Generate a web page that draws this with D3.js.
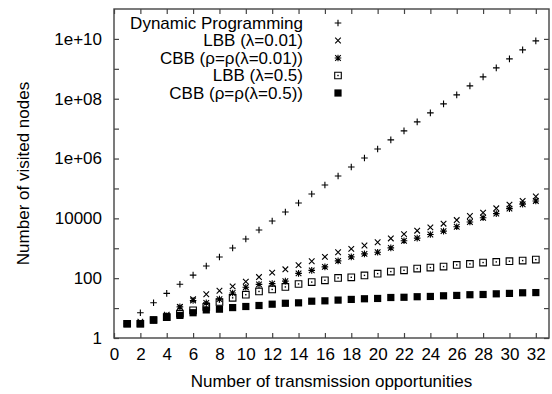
<!DOCTYPE html>
<html>
<head>
<meta charset="utf-8">
<script src="https://cdn.jsdelivr.net/npm/d3@7"></script>
<style>
  html, body { margin: 0; padding: 0; background: #ffffff; }
  #chart svg { display: block; font-family: "Liberation Sans", Arial, Helvetica, sans-serif; }
</style>
</head>
<body>
<div id="chart"></div>
<script>
// Number of transmission opportunities (x)
const opportunities = [1, 2, 3, 4, 5, 6, 7, 8, 9, 10, 11, 12, 13, 14, 15, 16,
  17, 18, 19, 20, 21, 22, 23, 24, 25, 26, 27, 28, 29, 30, 31, 32];

// Number of visited nodes (log scale)
const dynamicProgramming = [3, 7, 15, 31, 63, 127, 255, 511, 1023, 2047, 4095, 8191,
  16383, 32767, 65535, 131071, 262143, 524287, 1048575, 2097151, 4194303, 8388607,
  16777215, 33554431, 67108863, 134217727, 268435455, 536870911, 1073741823,
  2147483647, 4294967295, 8589934591];
const lbbSmall = [3, 3.5, 4, 6, 11, 20, 29, 38, 53, 77, 109, 153, 198, 273, 369, 517,
  737, 955, 1240, 1590, 2130, 2960, 3870, 5000, 6630, 8770, 12000, 15500, 21700,
  28900, 38200, 53700];
const cbbSmall = [3, 3, 4, 5.5, 11, 18, 15, 20, 32, 50, 62, 66, 80, 145, 183, 239,
  380, 517, 650, 740, 1030, 1780, 2180, 2890, 3740, 5250, 7540, 10500, 14400,
  21200, 29600, 38200];
const lbbLarge = [3, 3, 4, 5, 6.5, 8.4, 11, 16, 22, 28, 36, 42, 51, 64, 74, 85, 102,
  107, 124, 142, 166, 183, 209, 226, 244, 277, 300, 333, 350, 369, 388, 418];
const cbbLarge = [3, 3, 4, 5, 5.7, 7, 8.7, 9.2, 10.4, 11.3, 12.2, 13.5, 14.5, 15, 17,
  17.5, 18.5, 19.5, 20.5, 21, 22.6, 23, 24, 24.5, 25.8, 26.5, 28, 28.5, 30, 31,
  32.5, 33];

const seriesNames = [
  'Dynamic Programming',
  'LBB (\u03bb=0.01)',
  'CBB (\u03c1=\u03c1(\u03bb=0.01))',
  'LBB (\u03bb=0.5)',
  'CBB (\u03c1=\u03c1(\u03bb=0.5))'
];
const seriesValues = [dynamicProgramming, lbbSmall, cbbSmall, lbbLarge, cbbLarge];
const seriesMarkers = ['plus', 'cross', 'star', 'box', 'filledBox'];

// Tick labels
const xTicks = [0, 2, 4, 6, 8, 10, 12, 14, 16, 18, 20, 22, 24, 26, 28, 30, 32];
const yTicks = [1, 100, 10000, 1e6, 1e8, 1e10];
const yTickLabels = ['1', '100', '10000', '1e+06', '1e+08', '1e+10'];
const yMinorTicks = [10, 1000, 1e5, 1e7, 1e9];

const svgWidth = 552;
const svgHeight = 394;
const margin = { top: 9, right: 3, bottom: 56, left: 114 };
const width = svgWidth - margin.left - margin.right;
const height = svgHeight - margin.top - margin.bottom;
const fontSize = 17;
const tickLen = 5;

const svg = d3.select('#chart')
  .append('svg')
  .attr('width', svgWidth)
  .attr('height', svgHeight);

const g = svg.append('g')
  .attr('transform', 'translate(' + margin.left + ',' + margin.top + ')');

const xScale = d3.scaleLinear().domain([0, 33]).range([0, width]);
const yScale = d3.scaleLog().domain([1, 1e11]).range([height, 0]);

// marker shapes, gnuplot style
function markerPath(type) {
  const s = 3.3;
  switch (type) {
    case 'plus': return 'M' + (-s) + ',0H' + s + 'M0,' + (-s) + 'V' + s;
    case 'cross': return 'M' + (-s * 0.85) + ',' + (-s * 0.85) + 'L' + (s * 0.85) + ',' + (s * 0.85) +
      'M' + (-s * 0.85) + ',' + (s * 0.85) + 'L' + (s * 0.85) + ',' + (-s * 0.85);
    case 'star': return markerPath('plus') + markerPath('cross');
    case 'box': return 'M' + (-s) + ',' + (-s) + 'H' + s + 'V' + s + 'H' + (-s) + 'Z';
    default: return '';
  }
}

function drawMarker(sel, type) {
  if (type === 'filledBox') {
    sel.append('rect')
      .attr('x', -3.6).attr('y', -3.6)
      .attr('width', 7.2).attr('height', 7.2)
      .attr('fill', '#000');
    return;
  }
  sel.append('path')
    .attr('d', markerPath(type))
    .attr('fill', 'none')
    .attr('stroke', '#000')
    .attr('stroke-width', 1.1);
  if (type === 'box') {
    sel.append('rect')
      .attr('x', -0.7).attr('y', -0.7)
      .attr('width', 1.4).attr('height', 1.4)
      .attr('fill', '#000');
  }
}

// X axis (bottom labels + top mirror ticks)
const xAxis = g.append('g')
  .attr('transform', 'translate(0,' + height + ')')
  .call(d3.axisBottom(xScale).tickValues(xTicks).tickSize(-tickLen).tickPadding(10));
g.append('g')
  .call(d3.axisTop(xScale).tickValues(xTicks).tickSize(-tickLen).tickFormat(''));

// Y axis (left labels + right mirror ticks)
const yAxis = g.append('g')
  .call(d3.axisLeft(yScale).tickValues(yTicks).tickSize(-tickLen).tickPadding(12)
    .tickFormat((d, i) => yTickLabels[i]));
g.append('g')
  .attr('transform', 'translate(' + width + ',0)')
  .call(d3.axisRight(yScale).tickValues(yTicks).tickSize(-tickLen).tickFormat(''));

// minor ticks at odd decades
g.append('g')
  .call(d3.axisLeft(yScale).tickValues(yMinorTicks).tickSize(-tickLen).tickFormat(''));
g.append('g')
  .attr('transform', 'translate(' + width + ',0)')
  .call(d3.axisRight(yScale).tickValues(yMinorTicks).tickSize(-tickLen).tickFormat(''));

g.selectAll('.domain').remove();
g.selectAll('.tick line').attr('stroke', '#444').attr('stroke-width', 1.2);
g.selectAll('.tick text')
  .attr('fill', '#000')
  .style('font-size', fontSize + 'px')
  .style('font-family', '"Liberation Sans", Arial, sans-serif');

// plot border
g.append('rect')
  .attr('x', 0).attr('y', 0)
  .attr('width', width).attr('height', height)
  .attr('fill', 'none')
  .attr('stroke', '#444')
  .attr('stroke-width', 1.4);

// data points
seriesValues.forEach((values, k) => {
  const pts = g.append('g').attr('class', 'series-' + k);
  opportunities.forEach((n, i) => {
    const p = pts.append('g')
      .attr('transform', 'translate(' + xScale(n) + ',' + yScale(values[i]) + ')');
    drawMarker(p, seriesMarkers[k]);
  });
});

// legend (text right aligned, marker to the right)
const legend = g.append('g').attr('transform', 'translate(0,0)');
seriesNames.forEach((name, k) => {
  const yPos = 14 + k * 17.5;
  legend.append('text')
    .attr('x', 189)
    .attr('y', yPos)
    .attr('dy', '0.35em')
    .attr('text-anchor', 'end')
    .style('font-size', fontSize + 'px')
    .text(name);
  const m = legend.append('g').attr('transform', 'translate(224,' + yPos + ')');
  drawMarker(m, seriesMarkers[k]);
});

// axis titles
svg.append('text')
  .attr('x', margin.left + width / 2)
  .attr('y', 387)
  .attr('text-anchor', 'middle')
  .style('font-size', fontSize + 'px')
  .text('Number of transmission opportunities');

svg.append('text')
  .attr('transform', 'translate(29,' + (margin.top + height / 2) + ') rotate(-90)')
  .attr('text-anchor', 'middle')
  .style('font-size', fontSize + 'px')
  .text('Number of visited nodes');
</script>
</body>
</html>
